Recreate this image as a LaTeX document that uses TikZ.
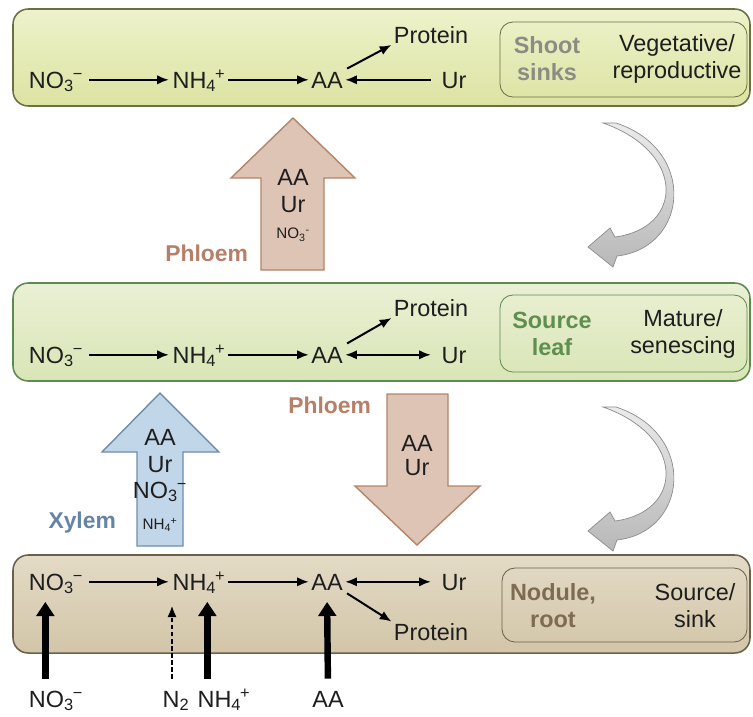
\documentclass[tikz,border=0pt]{standalone}
\usepackage{fontspec}
\setmainfont{Liberation Sans}
\usepackage{xcolor}
\usepackage{tikz}
\usetikzlibrary{positioning,calc,arrows.meta}
\definecolor{ShootTop}{HTML}{EEF2CB}
\definecolor{ShootBot}{HTML}{DCE3A2}
\definecolor{ShootLine}{HTML}{6B6F46}
\definecolor{LeafTop}{HTML}{EAF0D4}
\definecolor{LeafBot}{HTML}{D9E5B6}
\definecolor{LeafLine}{HTML}{5C8A50}
\definecolor{RootTop}{HTML}{E4DBC6}
\definecolor{RootBot}{HTML}{D2C5A8}
\definecolor{RootLine}{HTML}{6B604C}
\definecolor{PhloemFill}{HTML}{DDC4B5}
\definecolor{PhloemLine}{HTML}{B5846A}
\definecolor{PhloemText}{HTML}{B77F67}
\definecolor{XylemFill}{HTML}{C2D6E9}
\definecolor{XylemLine}{HTML}{6F8DAB}
\definecolor{XylemText}{HTML}{6584A6}
\definecolor{ShootText}{HTML}{8C8C84}
\definecolor{LeafText}{HTML}{5F8F4E}
\definecolor{RootText}{HTML}{7D6B52}
\definecolor{InkText}{HTML}{1E1E1E}
\newcommand{\chemion}[3]{#1\textsubscript{#2}\kern-0.04em\textsuperscript{#3}}
\tikzset{
    chem/.style={font=\fontsize{20}{24}\selectfont, text=InkText, inner sep=1pt, text height=14pt, text depth=0pt},
    flow/.style={-{Latex[length=10pt,width=8pt]}, line width=1.7pt, shorten <=3pt, shorten >=2pt},
    twoway/.style={flow, {Latex[length=10pt,width=8pt]}-{Latex[length=10pt,width=8pt]}},
    uptake/.style={-{Triangle[length=12pt,width=15pt]}, line width=5.5pt, shorten <=9pt, shorten >=9pt},
    organ/.style={rounded corners=13pt, line width=1.3pt},
    tagbox/.style={rounded corners=11pt, line width=0.7pt},
    tagname/.style={font=\bfseries\fontsize{20}{23}\selectfont, align=center},
    tagtext/.style={font=\fontsize{20}{23}\selectfont, text=InkText, align=center}
}
\begin{document}
\begin{tikzpicture}[x=0.03cm, y=-0.03cm,
					% style cho mui ten khoi
					bigarrow/.style={line width=1.2pt},
					vessel/.style={font=\bfseries\fontsize{19.5}{22}\selectfont},
					cargo/.style={font=\fontsize{20}{24}\selectfont, text=InkText, inner sep=0pt},
					smallcargo/.style={font=\fontsize{13}{15}\selectfont, text=InkText, inner sep=0pt},
					turnarrow/.style={draw=black!45, line width=0.6pt, top color=black!8, bottom color=black!28}
				]
					\useasboundingbox (0,0) rectangle (753,716);
					\fill[white] (0,0) rectangle (753,716);
					
					% --- CAC KHOI CO QUAN ---
					\draw[organ, draw=ShootLine, top color=ShootTop, bottom color=ShootBot] (13,9) rectangle (750,106);
					\draw[organ, draw=LeafLine, top color=LeafTop, bottom color=LeafBot] (13,283) rectangle (750,381);
					\draw[organ, draw=RootLine, top color=RootTop, bottom color=RootBot] (13,555) rectangle (750,653);
					\draw[tagbox, draw=ShootLine] (500,22) rectangle (747,97);
					\draw[tagbox, draw=LeafLine] (500,295) rectangle (747,372);
					\draw[tagbox, draw=RootLine] (502,568) rectangle (747,642);
					
					% --- NHAN CUA KHOI ---
					\node[tagname, text=ShootText] (shoot) at (547,59) {Shoot\\sinks};
					\node[tagtext] (shootstage) at (677,59) {Vegetative/\\reproductive};
					\node[tagname, text=LeafText] (leaf) at (552,334) {Source\\leaf};
					\node[tagtext] (leafstage) at (683,334) {Mature/\\senescing};
					\node[tagname, text=RootText] (root) at (553,606) {Nodule,\\root};
					\node[tagtext] (rootstage) at (695,606) {Source/\\sink};
					
					% --- CHUOI CHUYEN HOA ---
					\foreach \r/\yb in {top/88, mid/363, bot/590}{
						\node[chem, anchor=base] (no3\r) at (56,\yb) {\chemion{NO}{3}{−}};
						\node[chem, anchor=base] (nh4\r) at (199,\yb) {\chemion{NH}{4}{+}};
						\node[chem, anchor=base] (aa\r) at (327,\yb) {AA};
						\node[chem, anchor=base] (ur\r) at (454,\yb) {Ur};
						\draw[flow, shorten <=4pt] (no3\r) -- (nh4\r);
						\draw[flow, shorten <=1pt, shorten >=1pt] (nh4\r) -- (aa\r);
					}
					\node[chem, anchor=base] (protop) at (431,43) {Protein};
					\node[chem, anchor=base] (promid) at (431,316) {Protein};
					\node[chem, anchor=base] (probot) at (431,640) {Protein};
					\draw[flow, shorten <=8pt, shorten >=1pt] (urtop) -- (aatop);
					\draw[twoway, shorten <=1pt, shorten >=8pt] (aamid) -- (urmid);
					\draw[twoway, shorten <=1pt, shorten >=8pt] (aabot) -- (urbot);
					\draw[flow, shorten >=1pt] (aatop.north east) -- (protop.south west);
					\draw[flow, shorten >=1pt] (aamid.north east) -- (promid.south west);
					\draw[flow, shorten >=1pt] (aabot.south east) -- (probot.north west);
					
					% --- HAP THU TU DAT ---
					\node[chem, anchor=base] (no3in) at (56,707) {\chemion{NO}{3}{−}};
					\node[chem, anchor=base] (n2in) at (176,707) {N\textsubscript{2}};
					\node[chem, anchor=base] (nh4in) at (224,707) {\chemion{NH}{4}{+}};
					\node[chem, anchor=base] (aain) at (328,707) {AA};
					\path ([xshift=-3.2mm]no3in.north) coordinate (no3foot)
						([xshift=-1.2mm]n2in.north) coordinate (n2foot)
						([xshift=-5mm]nh4in.north) coordinate (nh4foot);
					\draw[uptake] (no3foot) -- (no3foot |- no3bot.south);
					\draw[flow, dash pattern=on 4pt off 2pt, line width=2.2pt, shorten <=9pt, shorten >=12pt] (n2foot) -- (n2foot |- nh4bot.south);
					\draw[uptake] (nh4foot) -- (nh4foot |- nh4bot.south);
					\draw[uptake] (aain.north) -- (aabot.south);
					
					% --- MUI TEN KHOI: PHLOEM / XYLEM ---
					\draw[bigarrow, draw=PhloemLine, fill=PhloemFill] (261,270) -- (261,178) -- (231,178) -- (293,118) -- (355,178) -- (324,178) -- (324,270) -- cycle;
					\node[cargo] (aaup) at (293,177) {AA};
					\node[cargo] (urup) at (293,205) {Ur};
					\node[smallcargo] (no3up) at (293,235) {NO\textsubscript{3}\textsuperscript{-}};
					\node[vessel, text=PhloemText, anchor=east] (phloemup) at (252,253) {Phloem};
					
					\draw[bigarrow, draw=XylemLine, fill=XylemFill] (137,546) -- (137,452) -- (102,452) -- (160,393) -- (219,452) -- (183,452) -- (183,546) -- cycle;
					\node[cargo] (aaxy) at (160,437) {AA};
					\node[cargo] (urxy) at (160,465) {Ur};
					\node[cargo] (no3xy) at (160,492) {\chemion{NO}{3}{−}};
					\node[smallcargo] (nh4xy) at (160,525) {\chemion{NH}{4}{+}};
					\node[vessel, text=XylemText, anchor=east] (xylem) at (120,523) {Xylem};
					
					\draw[bigarrow, draw=PhloemLine, fill=PhloemFill] (387,394) -- (448,394) -- (448,486) -- (480,486) -- (417,545) -- (355,486) -- (387,486) -- cycle;
					\node[cargo] (aadown) at (417,443) {AA};
					\node[cargo] (urdown) at (417,468) {Ur};
					\node[vessel, text=PhloemText, anchor=east] (phloemdown) at (375,405) {Phloem};
					
					% --- MUI TEN CONG (chu ky) ---
					\foreach \dy in {0,284}{
						\begin{scope}[shift={(0,\dy)}]
							\draw[turnarrow] (603,123) -- (616,123) .. controls (698,150) and (688,248) .. (617,256) -- (613,267) -- (588,247) -- (610,228) -- (615,237) .. controls (684,228) and (686,152) .. (603,123) -- cycle;
						\end{scope}
					}
					
				\end{tikzpicture}
\end{document}
